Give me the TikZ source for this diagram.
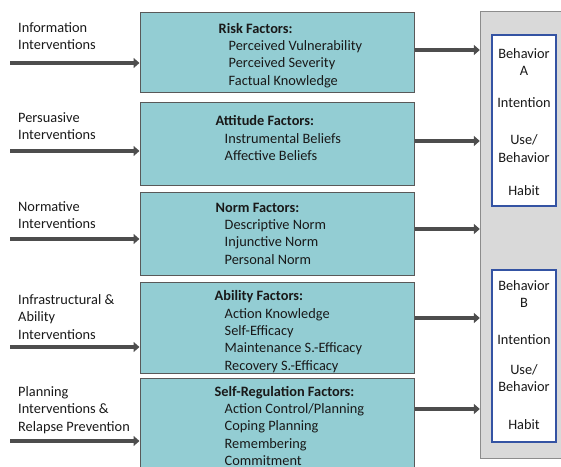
\documentclass[tikz,border=0pt]{standalone}
\usepackage{fontspec}
\setmainfont{Carlito}
\usetikzlibrary{arrows.meta,positioning}
\definecolor{factorfill}{HTML}{93CDD3}
\definecolor{panelgray}{HTML}{D9D9D9}
\definecolor{behavblue}{HTML}{3453A3}
\definecolor{flowgray}{HTML}{4D4D4D}

\begin{document}
\begin{tikzpicture}[x=1bp,y=-1bp,
	factor/.style={draw=black!65, line width=1bp, fill=factorfill, minimum width=274bp, inner sep=0pt},
	facttext/.style={align=left, inner sep=0pt, text=black!90, font=\fontsize{14.4}{17.4}\selectfont},
	intext/.style={align=left, inner sep=0pt, anchor=north west, text=black!90, font=\fontsize{14.4}{17.5}\selectfont},
	behbox/.style={draw=behavblue, line width=2bp, fill=white, minimum width=64bp, inner sep=0pt},
	behtext/.style={align=center, inner sep=0pt, text=black!90, font=\fontsize{14.4}{17.5}\selectfont},
	flow/.style={draw=flowgray, line width=4bp, -{Triangle[length=6bp,width=10bp]}}]

			\useasboundingbox (0,0) rectangle (561,467);

			% Behavior panel
			\node[draw=black!45, fill=panelgray, minimum width=120bp, minimum height=447bp, inner sep=0pt] (panel) at (540,234.5) {};
			\node[behbox, minimum height=171bp] (behA) at (524,120.5) {};
			\node[behbox, minimum height=172bp] (behB) at (524,356) {};

			\node[behtext] (behAname) at (524,62) {Behavior\\A};
			\node[behtext] (behAint) at (524,103) {Intention};
			\node[behtext] (behAuse) at (524,148.5) {Use/\\Behavior};
			\node[behtext] (behAhab) at (524,191) {Habit};

			\node[behtext] (behBname) at (524,294) {Behavior\\B};
			\node[behtext] (behBint) at (524,340) {Intention};
			\node[behtext] (behBuse) at (524,378) {Use/\\Behavior};
			\node[behtext] (behBhab) at (524,425) {Habit};

			% Factor boxes
			\node[factor, minimum height=80bp] (risk) at (277,53) {};
			\node[factor, minimum height=83bp] (attitude) at (277,144.5) {};
			\node[factor, minimum height=82bp] (norm) at (277,234) {};
			\node[factor, minimum height=90bp] (ability) at (277,328) {};
			\node[factor, minimum height=102bp] (selfreg) at (277,429) {};

			\node[facttext, below right=10.5bp and 79bp of risk.north west] (risktxt)
				{\textbf{Risk Factors:}\\\hspace*{10bp}Perceived Vulnerability\\\hspace*{10bp}Perceived Severity\\\hspace*{10bp}Factual Knowledge};
			\node[facttext, below right=13bp and 76bp of attitude.north west] (attitudetxt)
				{\textbf{Attitude Factors:}\\\hspace*{9bp}Instrumental Beliefs\\\hspace*{9bp}Affective Beliefs};
			\node[facttext, below right=10bp and 76bp of norm.north west] (normtxt)
				{\textbf{Norm Factors:}\\\hspace*{9bp}Descriptive Norm\\\hspace*{9bp}Injunctive Norm\\\hspace*{9bp}Personal Norm};
			\node[facttext, below right=8bp and 75bp of ability.north west] (abilitytxt)
				{\textbf{Ability Factors:}\\\hspace*{10bp}Action Knowledge\\\hspace*{10bp}Self-Efficacy\\\hspace*{10bp}Maintenance S.-Efficacy\\\hspace*{10bp}Recovery S.-Efficacy};
			\node[facttext, below right=8.5bp and 75bp of selfreg.north west] (selfregtxt)
				{\textbf{Self-Regulation Factors:}\\\hspace*{10bp}Action Control/Planning\\\hspace*{10bp}Coping Planning\\\hspace*{10bp}Remembering\\\hspace*{10bp}Commitment};

			% Interventions
			\node[intext] (info) at (18,22) {Information\\Interventions};
			\node[intext] (persuade) at (18,112) {Persuasive\\Interventions};
			\node[intext] (normative) at (18,201) {Normative\\Interventions};
			\node[intext] (infra) at (18,294) {Infrastructural \&\\Ability\\Interventions};
			\node[intext] (planning) at (18,386) {Planning\\Interventions \&\\Relapse Prevention};

			\coordinate (in1) at (10,63);
			\coordinate (in2) at (10,151);
			\coordinate (in3) at (10,239);
			\coordinate (in4) at (10,347);
			\coordinate (in5) at (10,441);

			\draw[flow] (in1) -- (in1 -| risk.west);
			\draw[flow] (in2) -- (in2 -| attitude.west);
			\draw[flow] (in3) -- (in3 -| norm.west);
			\draw[flow] (in4) -- (in4 -| ability.west);
			\draw[flow] (in5) -- (in5 -| selfreg.west);

			% Factors to behavior
			\draw[flow] ([yshift=3bp]risk.east) -- ([yshift=3bp]risk.east -| panel.west);
			\draw[flow] ([yshift=3.5bp]attitude.east) -- ([yshift=3.5bp]attitude.east -| panel.west);
			\draw[flow] ([yshift=5bp]norm.east) -- ([yshift=5bp]norm.east -| panel.west);
			\draw[flow] ([yshift=10bp]ability.east) -- ([yshift=10bp]ability.east -| panel.west);
			\draw[flow] ([yshift=20bp]selfreg.east) -- ([yshift=20bp]selfreg.east -| panel.west);

		\end{tikzpicture}
\end{document}
